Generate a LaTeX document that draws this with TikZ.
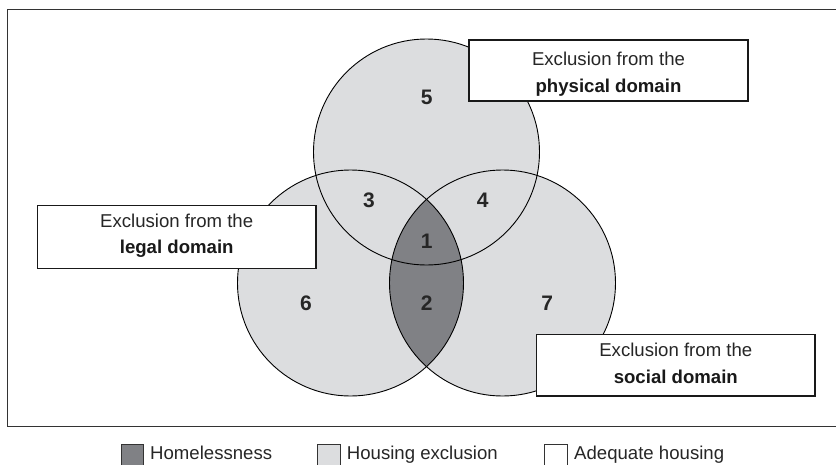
\documentclass[tikz,border=0pt]{standalone}
\usepackage{fontspec}
\setmainfont{Liberation Sans}
\definecolor{lightg}{HTML}{DCDDDF}
\definecolor{darkg}{HTML}{808185}
\definecolor{framec}{HTML}{333333}
\begin{document}
\begin{tikzpicture}[x=1pt,y=-1pt,
  vennline/.style={draw=black,line width=0.9pt},
  domainbox/.style={draw=black!90,line width=1.2pt,fill=white,rectangle,inner sep=0pt},
  boxtxt/.style={font=\fontsize{18.6}{22}\selectfont,text=black!85,inner sep=0pt,anchor=base},
  boxbold/.style={font=\fontsize{18.6}{22}\selectfont\bfseries,text=black!90,inner sep=0pt,anchor=base},
  numtxt/.style={font=\fontsize{21}{24}\selectfont\bfseries,text=black!85,inner sep=0pt},
  legsq/.style={draw=black!80,line width=0.8pt,rectangle,inner sep=0pt,minimum width=22.6pt,minimum height=30pt,anchor=north west},
  legtxt/.style={font=\fontsize{18.6}{22}\selectfont,text=black!85,inner sep=0pt,anchor=base west}]
\useasboundingbox (0,0) rectangle (836,464);
\begin{scope}
\clip (0,0) rectangle (836,464);
% frame
\draw[framec,line width=1.5pt] (7.5,9.5) rectangle (860,426.5);
% circles
\coordinate (cT) at (426.5,152);
\coordinate (cL) at (350.5,283);
\coordinate (cR) at (502.5,283);
\fill[lightg] (cT) circle[radius=113] (cL) circle[radius=113] (cR) circle[radius=113];
\begin{scope}
\clip (cL) circle[radius=113];
\fill[darkg] (cR) circle[radius=113];
\end{scope}
\draw[vennline] (cT) circle[radius=113];
\draw[vennline] (cL) circle[radius=113];
\draw[vennline] (cR) circle[radius=113];
% numbers
\node[numtxt] (n5) at (426.7,97) {5};
\node[numtxt] (n3) at (369,200) {3};
\node[numtxt] (n4) at (482.7,200) {4};
\node[numtxt] (n1) at (426.7,241) {1};
\node[numtxt] (n2) at (426.7,303.3) {2};
\node[numtxt] (n6) at (306,303.3) {6};
\node[numtxt] (n7) at (547.3,303.3) {7};
% domain boxes
\node[domainbox,minimum width=279pt,minimum height=61pt] (phys) at (608.5,70.5) {};
\node[boxtxt] (physA) at (608.5,65) {Exclusion from the};
\node[boxbold] (physB) at (608.5,92.2) {physical domain};
\node[domainbox,minimum width=278.7pt,minimum height=62.3pt] (legal) at (176.7,237) {};
\node[boxtxt] (legalA) at (176.7,227) {Exclusion from the};
\node[boxbold] (legalB) at (176.7,253.5) {legal domain};
\node[domainbox,minimum width=278.3pt,minimum height=61.3pt] (social) at (675.8,365.3) {};
\node[boxtxt] (socialA) at (675.8,356.7) {Exclusion from the};
\node[boxbold] (socialB) at (675.8,383.3) {social domain};
% legend
\node[legsq,fill=darkg] (sqH) at (120.7,444) {};
\node[legtxt] (tH) at (150,459.5) {Homelessness};
\node[legsq,fill=lightg] (sqX) at (317.3,444) {};
\node[legtxt] (tX) at (346.7,459.5) {Housing exclusion};
\node[legsq,fill=white] (sqA) at (544.3,444) {};
\node[legtxt] (tA) at (574,459.5) {Adequate housing};
\end{scope}
\end{tikzpicture}
\end{document}
